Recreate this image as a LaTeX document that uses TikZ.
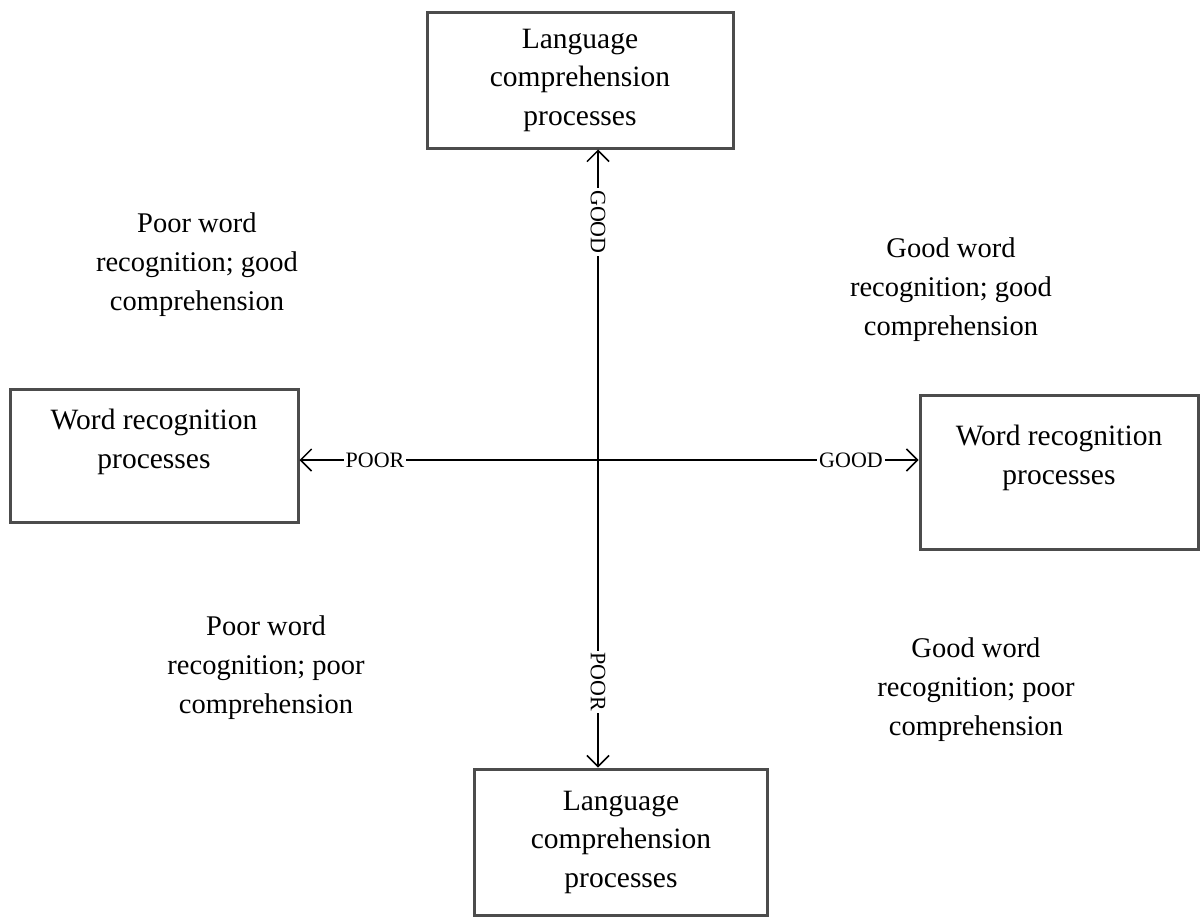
\documentclass[tikz,border=0pt]{standalone}
\usepackage{fontspec}
\setmainfont{Liberation Serif}
\usetikzlibrary{arrows.meta}
\begin{document}
\begin{tikzpicture}[x=1pt,y=-1pt,
  box/.style={draw=black!70, line width=3pt, align=center, inner sep=0pt,
    font=\fontsize{29.5}{38.5}\selectfont},
  note/.style={align=center, font=\fontsize{28.5}{39}\selectfont},
  lbl/.style={font=\fontsize{22}{22}\selectfont, fill=white, inner sep=2pt},
  axis/.style={line width=1.5pt,
    {Straight Barb[length=11pt,width=22pt,line width=1.5pt]}-{Straight Barb[length=11pt,width=22pt,line width=1.5pt]}}]
\useasboundingbox (0,0) rectangle (1201,918);
% boxes
\node[box, minimum width=306pt, minimum height=136pt] (T) at (580,80) {Language\\comprehension\\processes};
\node[box, minimum width=288pt, minimum height=133pt, text depth=34pt] (L) at (154,456) {Word recognition\\processes};
\node[box, minimum width=278pt, minimum height=154pt, text depth=34pt] (R) at (1059,472) {Word recognition\\processes};
\node[box, minimum width=293pt, minimum height=146pt] (B) at (621,842) {Language\\comprehension\\processes};
% axes
\coordinate (O) at (598,460);
\draw[axis] (L.east |- O) -- (R.west |- O);
\draw[axis] (O |- T.south) -- (O |- B.north);
% axis labels
\node[lbl] (lp) at (375,460) {POOR};
\node[lbl] (lg) at (851,460) {GOOD};
\node[lbl, rotate=-90] (vg) at (598,222) {GOOD};
\node[lbl, rotate=-90] (vp) at (598,682) {POOR};
% quadrant notes
\node[note] (n1) at (197,265) {Poor word\\recognition; good\\comprehension};
\node[note] (n2) at (951,290) {Good word\\recognition; good\\comprehension};
\node[note] (n3) at (266,668) {Poor word\\recognition; poor\\comprehension};
\node[note] (n4) at (976,690) {Good word\\recognition; poor\\comprehension};
\end{tikzpicture}
\end{document}
